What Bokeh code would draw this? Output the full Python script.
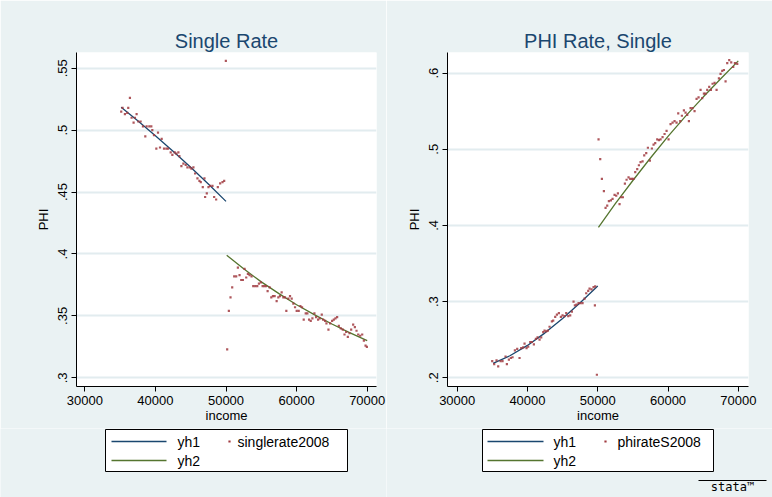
from bokeh.plotting import figure
from bokeh.layouts import column, row
from bokeh.models import Range1d, FixedTicker
from bokeh.core.properties import value
from bokeh.embed import file_html
from bokeh.resources import INLINE

# ---------------- data ----------------
x_ticks = [30000, 40000, 50000, 60000, 70000]
x_tick_labels = ["30000", "40000", "50000", "60000", "70000"]

left_title = "Single Rate"
left_y_ticks = [0.30, 0.35, 0.40, 0.45, 0.50, 0.55]
left_y_labels = [".3", ".35", ".4", ".45", ".5", ".55"]
left_scatter_name = "singlerate2008"

# singlerate2008, below the 50000 cutoff
L1_x = [35160, 35349, 35681, 36012, 36154, 36391, 36628, 36912, 37101, 37338,
        37574, 37906, 38237, 38569, 38758, 39137, 39421, 39563, 39800, 40131,
        40368, 40652, 40888, 41220, 41551, 41788, 42166, 42403, 42734, 42971,
        43255, 43397, 43681, 43965, 44297, 44534, 44865, 45101, 45385, 45622,
        45954, 46238, 46427, 46711, 46948, 47042, 47279, 47516, 47753, 48084,
        48321, 48605, 48841, 49173, 49504, 49741, 49978]
L1_y = [.515, .518, .513, .514, .518, .526, .510, .506, .510, .513,
        .507, .507, .503, .495, .503, .503, .503, .500, .496, .485,
        .498, .486, .493, .485, .485, .485, .482, .480, .482, .481,
        .482, .479, .471, .473, .472, .470, .470, .469, .470, .465,
        .461, .459, .458, .454, .461, .446, .449, .454, .455, .455,
        .446, .444, .454, .457, .458, .459, .556]
# singlerate2008, above the cutoff
L2_x = [50167, 50404, 50640, 50877, 51161, 51445, 51682, 51919, 52156, 52392,
        52629, 52866, 53102, 53339, 53623, 53859, 54143, 54427, 54664, 54948,
        55185, 55422, 55658, 55895, 56179, 56416, 56652, 56889, 57173, 57410,
        57646, 57883, 58120, 58356, 58546, 58830, 59067, 59303, 59540, 59777,
        60014, 60298, 60534, 60771, 61008, 61292, 61528, 61765, 62002, 62238,
        62522, 62760, 63043, 63280, 63565, 63754, 64038, 64227, 64511, 64748,
        65032, 65269, 65506, 65742, 65979, 66263, 66547, 66785, 67021, 67256,
        67493, 67730, 68014, 68251, 68487, 68724, 69008, 69292, 69529, 69766,
        69955]
L2_y = [.323, .354, .365, .373, .382, .382, .389, .383, .379, .379,
        .388, .381, .384, .383, .382, .374, .374, .374, .376, .377,
        .374, .374, .374, .370, .373, .365, .366, .366, .362, .365,
        .366, .369, .365, .365, .354, .364, .366, .364, .360, .357,
        .354, .354, .358, .357, .347, .352, .352, .347, .346, .348,
        .352, .349, .347, .348, .351, .347, .346, .344, .339, .344,
        .346, .347, .348, .349, .342, .340, .339, .335, .337, .333,
        .336, .339, .343, .341, .338, .335, .334, .335, .330, .326,
        .325]
# fitted values yh1 / yh2
L_yh1_x = [35150, 37500, 40000, 42500, 45000, 47500, 50000]
L_yh1_y = [.5185, .5075, .4955, .4830, .4700, .4565, .4425]
L_yh2_x = [50100, 52500, 55000, 57500, 60000, 62500, 65000, 67500, 70000]
L_yh2_y = [.3990, .3880, .3775, .3680, .3590, .3510, .3435, .3365, .3300]

right_title = "PHI Rate, Single"
right_y_ticks = [0.2, 0.3, 0.4, 0.5, 0.6]
right_y_labels = [".2", ".3", ".4", ".5", ".6"]
right_scatter_name = "phirateS2008"

R1_x = [34981, 35265, 35598, 35835, 36167, 36452, 36879, 37069, 37353, 37638,
        37875, 38207, 38539, 38871, 39108, 39393, 39583, 39867, 40105, 40389,
        40627, 40911, 41196, 41433, 41718, 41955, 42240, 42429, 42666, 42903,
        43141, 43473, 43663, 43947, 44185, 44469, 44754, 44991, 45276, 45513,
        45798, 46082, 46319, 46556, 46746, 46984, 47268, 47553, 47837, 48122,
        48359, 48644, 48834, 49118, 49403, 49593, 49640, 49877]
R1_y = [.222, .218, .223, .215, .222, .222, .228, .218, .224, .226,
        .227, .236, .238, .226, .239, .240, .245, .239, .241, .247,
        .247, .244, .251, .253, .250, .253, .260, .262, .261, .262,
        .267, .274, .275, .280, .283, .285, .280, .282, .281, .285,
        .281, .282, .287, .300, .295, .296, .298, .298, .298, .304,
        .311, .314, .317, .316, .319, .295, .320, .204]
R2_x = [50114, 50352, 50589, 50874, 51111, 51348, 51585, 51870, 52107, 52392,
        52629, 52866, 53103, 53340, 53578, 53862, 54100, 54384, 54621, 54859,
        55096, 55333, 55618, 55855, 56092, 56377, 56614, 56899, 57136, 57420,
        57705, 57942, 58179, 58464, 58701, 58938, 59223, 59508, 59792, 60077,
        60362, 60646, 60931, 61216, 61453, 61737, 61975, 62259, 62496, 62734,
        62971, 63208, 63493, 63777, 64062, 64347, 64631, 64868, 65106, 65343,
        65580, 65865, 66102, 66339, 66624, 66909, 67241, 67478, 67715, 67952,
        68189, 68426, 68711, 68995, 69280, 69517, 69850]
R2_y = [.513, .487, .461, .445, .423, .426, .432, .433, .435, .440,
        .439, .442, .428, .437, .437, .455, .460, .463, .461, .461,
        .461, .470, .474, .479, .483, .484, .492, .495, .502, .485,
        .501, .506, .508, .513, .512, .513, .516, .520, .524, .513,
        .533, .535, .537, .535, .547, .537, .544, .551, .548, .545,
        .537, .554, .554, .550, .566, .568, .578, .567, .573, .573,
        .578, .582, .578, .586, .587, .578, .593, .599, .603, .604,
        .589, .613, .617, .614, .608, .613, .612]
R_yh1_x = [35100, 37500, 40000, 42500, 45000, 47500, 50000]
R_yh1_y = [.2190, .2290, .2425, .2590, .2780, .2985, .3205]
R_yh2_x = [50100, 52500, 55000, 57500, 60000, 62500, 65000, 67500, 70000]
R_yh2_y = [.3975, .4285, .4590, .4885, .5170, .5435, .5685, .5925, .6160]

x_label = "income"
y_label = "PHI"
legend_labels = ["yh1", "yh2"]
logo_text = "stata\u2122"

# ---------------- style ----------------
BG = "#EAF2F3"
GRID = "#E2ECEF"
NAVY = "#1A476F"
MAROON = "#A0393F"
GREEN = "#55752F"
FONT = "Liberation Sans"


def panel(title, xr, yr, yticks, ylabels, segs, lines, border_left, border_right):
    p = figure(width=386, height=428, output_backend="svg", toolbar_location=None,
               x_range=Range1d(*xr), y_range=Range1d(*yr),
               min_border_left=border_left, min_border_right=border_right,
               min_border_top=52, min_border_bottom=42)
    p.background_fill_color = "white"
    p.border_fill_color = BG
    p.outline_line_color = None

    p.title.text = title
    p.title.align = "center"
    p.title.text_font = FONT
    p.title.text_font_size = "20px"
    p.title.text_font_style = "normal"
    p.title.text_color = NAVY
    p.title.standoff = 2

    p.xgrid.grid_line_color = None
    p.ygrid.grid_line_color = GRID
    p.ygrid.grid_line_width = 2

    xa = p.xaxis[0]
    xa.ticker = FixedTicker(ticks=x_ticks)
    xa.major_label_overrides = {t: s for t, s in zip(x_ticks, x_tick_labels)}
    xa.axis_label = x_label
    xa.axis_label_standoff = 0

    ya = p.yaxis[0]
    ya.ticker = FixedTicker(ticks=yticks)
    ya.major_label_overrides = {t: s for t, s in zip(yticks, ylabels)}
    ya.major_label_orientation = "vertical"
    ya.axis_label = y_label
    ya.axis_label_standoff = 5

    for ax in (xa, ya):
        ax.axis_line_color = "black"
        ax.axis_line_width = 1
        ax.major_tick_line_color = "black"
        ax.major_tick_out = 5
        ax.major_tick_in = 0
        ax.minor_tick_line_color = None
        ax.major_label_standoff = 4
        ax.major_label_text_font = FONT
        ax.major_label_text_font_size = "13px"
        ax.major_label_text_color = "black"
        ax.axis_label_text_font = FONT
        ax.axis_label_text_font_size = "13px"
        ax.axis_label_text_font_style = "normal"
        ax.axis_label_text_color = "black"

    for (lx, ly), c in zip(lines, (NAVY, GREEN)):
        p.line(lx, ly, line_color=c, line_width=1.3)
    for sx, sy in segs:
        p.scatter(sx, sy, marker="square", size=2.2, fill_color=MAROON,
                  line_color=None, fill_alpha=0.85)
    return p


def legend_fig(box, line_x, text_x, dot_x, dot_text_x, scatter_name, logo=False):
    f = figure(width=386, height=69, output_backend="svg", toolbar_location=None,
               x_range=Range1d(0, 386), y_range=Range1d(69, 0),
               x_axis_location=None, y_axis_location=None, min_border=0)
    f.grid.visible = False
    f.outline_line_color = None
    f.background_fill_color = BG
    f.border_fill_color = BG
    f.quad(left=[box[0]], right=[box[1]], top=[box[2]], bottom=[box[3]],
           fill_color="white", line_color="black", line_width=1)
    rows_y = [13, 32]
    for yy, c, lab in zip(rows_y, (NAVY, GREEN), legend_labels):
        f.line(line_x, [yy, yy], line_color=c, line_width=1.3)
        f.text(x=[text_x], y=[yy], text=[lab], text_baseline="middle",
               text_font=value(FONT), text_font_size="14px", text_color="black")
    f.scatter([dot_x], [rows_y[0]], marker="square", size=2.2,
              fill_color=MAROON, line_color=None)
    f.text(x=[dot_text_x], y=[rows_y[0]], text=[scatter_name], text_baseline="middle",
           text_font=value(FONT), text_font_size="14px", text_color="black")
    if logo:
        f.line([312, 380], [52, 52], line_color="black", line_width=1)
        f.text(x=[346], y=[58], text=[logo_text], text_baseline="middle",
               text_align="center", text_font=value("DejaVu Sans Mono"),
               text_font_size="12px", text_color="black")
    return f


p1 = panel(left_title, (28824, 71317), (0.293, 0.5627), left_y_ticks, left_y_labels,
           [(L1_x, L1_y), (L2_x, L2_y)],
           [(L_yh1_x, L_yh1_y), (L_yh2_x, L_yh2_y)], 76, 10)
p2 = panel(right_title, (28619, 71452), (0.1886, 0.627), right_y_ticks, right_y_labels,
           [(R1_x, R1_y), (R2_x, R2_y)],
           [(R_yh1_x, R_yh1_y), (R_yh2_x, R_yh2_y)], 61, 24)

l1 = legend_fig((105, 347, 1, 43), [111, 166], 177, 229, 237, left_scatter_name)
l2 = legend_fig((96, 327, 1, 43), [101, 157], 167, 219, 231, right_scatter_name, logo=True)

layout = column(row(p1, p2), row(l1, l2))
open("out.html", "w").write(file_html(layout, INLINE))
